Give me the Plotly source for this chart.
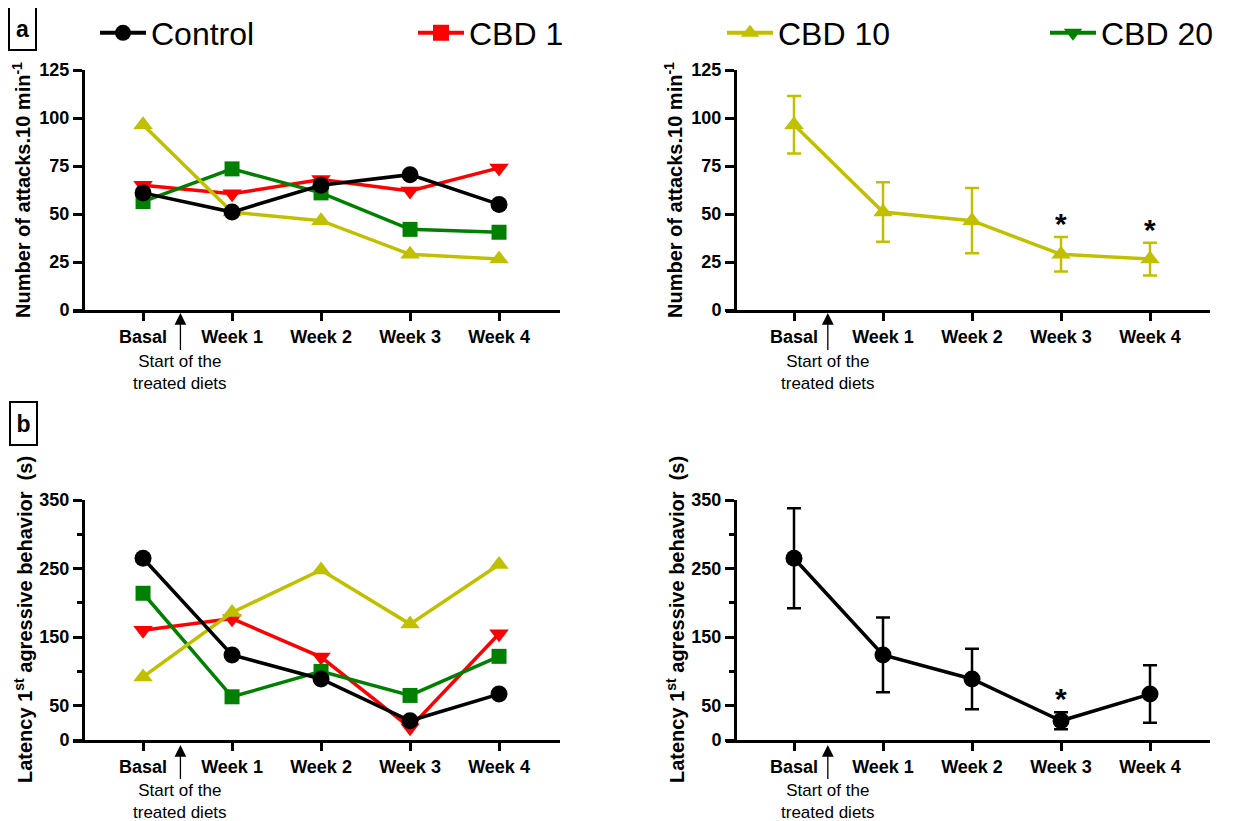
import plotly.graph_objects as go

# page body has an 8px margin: figure is sized so it ends at the window edge
OFF = 8
W, H = 1237 - OFF, 821 - OFF

categories = ["Basal", "Week 1", "Week 2", "Week 3", "Week 4"]
series_names = ["Control", "CBD 1", "CBD 10", "CBD 20"]

# (a) Number of attacks per 10 min
attacks_control = [61, 51, 65, 70.5, 55]
attacks_cbd1 = [65, 60.5, 68, 62, 74]
attacks_cbd10 = [96.5, 51, 46.5, 29, 26.5]
attacks_cbd20 = [56.5, 73.5, 61, 42, 40.5]
attacks_cbd10_err = [15, 15.5, 17, 9, 8.5]
attacks_sig = ["Week 3", "Week 4"]

# (b) Latency of 1st aggressive behavior (s)
latency_control = [265, 124, 89, 28, 67]
latency_cbd1 = [160, 177, 121, 18, 155]
latency_cbd10 = [92, 186, 248, 169, 256]
latency_cbd20 = [214, 63, 100, 65, 122]
latency_control_err = [73, 54.5, 44, 12.5, 42]
latency_sig = ["Week 3"]

attack_ticks = [0, 25, 50, 75, 100, 125]
latency_ticks = [0, 50, 150, 250, 350]
latency_minor = [100, 200, 300]

FONT = "Liberation Sans, Arial, sans-serif"
BLACK = "#000000"
RED = "#FF0000"
YEL = "#C0C000"
GRN = "#008000"

def px_x(p):
    return (p - OFF) / W

def px_y(p):
    return 1 - (p - OFF) / H

fig = go.Figure()

# legend-only entries (as drawn in the original legend), one legend box each
leg_style = [
    ("Control", BLACK, "circle", "legend", 95),
    ("CBD 1", RED, "square", "legend2", 413),
    ("CBD 10", YEL, "triangle-up", "legend3", 722),
    ("CBD 20", GRN, "triangle-down", "legend4", 1045),
]
for name, col, sym, lg, _ in leg_style:
    fig.add_trace(go.Scatter(x=[None], y=[None], mode="lines+markers", name=name,
                             line=dict(color=col, width=4),
                             marker=dict(symbol=sym, size=16, color=col),
                             xaxis="x", yaxis="y", showlegend=True, legend=lg))

def add_group(xa, ya, ctrl, c1, c10, c20):
    specs = [
        (c1, RED, "triangle-down", 17),
        (c20, GRN, "square", 15),
        (c10, YEL, "triangle-up", 17),
        (ctrl, BLACK, "circle", 17),
    ]
    for vals, col, sym, sz in specs:
        fig.add_trace(go.Scatter(x=categories, y=vals, mode="lines+markers",
                                 line=dict(color=col, width=3.5),
                                 marker=dict(symbol=sym, size=sz, color=col),
                                 xaxis=xa, yaxis=ya, showlegend=False,
                                 cliponaxis=False))

add_group("x", "y", attacks_control, attacks_cbd1, attacks_cbd10, attacks_cbd20)
add_group("x3", "y3", latency_control, latency_cbd1, latency_cbd10, latency_cbd20)

fig.add_trace(go.Scatter(x=categories, y=attacks_cbd10, mode="lines+markers",
                         line=dict(color=YEL, width=3.5),
                         marker=dict(symbol="triangle-up", size=17, color=YEL),
                         error_y=dict(type="data", array=attacks_cbd10_err, color=YEL,
                                      thickness=2.5, width=7),
                         xaxis="x2", yaxis="y2", showlegend=False, cliponaxis=False))
fig.add_trace(go.Scatter(x=categories, y=latency_control, mode="lines+markers",
                         line=dict(color=BLACK, width=3.5),
                         marker=dict(symbol="circle", size=17, color=BLACK),
                         error_y=dict(type="data", array=latency_control_err, color=BLACK,
                                      thickness=2.5, width=7),
                         xaxis="x4", yaxis="y4", showlegend=False, cliponaxis=False))

tickfont = dict(family=FONT, size=18, color=BLACK, weight="bold")

def xax(dom, anchor, rng):
    return dict(domain=[px_x(dom[0]), px_x(dom[1])], anchor=anchor, type="category",
                range=rng, showline=True, linewidth=3, linecolor=BLACK,
                ticks="outside", ticklen=8, tickwidth=3, tickcolor=BLACK,
                showgrid=False, zeroline=False, tickfont=tickfont,
                categoryorder="array", categoryarray=categories)

def yax(dom, pos, rng, tv, minor=None):
    d = dict(domain=[px_y(dom[1]), px_y(dom[0])], anchor="free", position=px_x(pos),
             range=rng, showline=True, linewidth=3, linecolor=BLACK,
             ticks="outside", ticklen=9, tickwidth=3, tickcolor=BLACK,
             tickmode="array", tickvals=tv, ticktext=[str(v) for v in tv],
             showgrid=False, zeroline=False, tickfont=tickfont)
    if minor:
        d["minor"] = dict(tickmode="array", tickvals=minor, ticks="outside",
                          ticklen=5, tickwidth=3, tickcolor=BLACK, showgrid=False)
    return d

LEFT_DOM = (73, 560)
RIGHT_DOM = (726, 1210)
LEFT_RNG = [-0.787, 4.685]
RIGHT_RNG = [-0.764, 4.674]
A_DOM = (70, 310)
B_DOM = (500, 740)

fig.update_layout(
    xaxis=xax(LEFT_DOM, "y", LEFT_RNG),
    yaxis=yax(A_DOM, 83, [0, 125], attack_ticks),
    xaxis2=xax(RIGHT_DOM, "y2", RIGHT_RNG),
    yaxis2=yax(A_DOM, 735, [0, 125], attack_ticks),
    xaxis3=xax(LEFT_DOM, "y3", LEFT_RNG),
    yaxis3=yax(B_DOM, 83, [0, 350], latency_ticks, latency_minor),
    xaxis4=xax(RIGHT_DOM, "y4", RIGHT_RNG),
    yaxis4=yax(B_DOM, 735, [0, 350], latency_ticks, latency_minor),
)

ann = []
# panel letters
for letter, cx, cy in [("a", 22.5, 28.5), ("b", 23, 423.5)]:
    ann.append(dict(text=letter, xref="paper", yref="paper", x=px_x(cx), y=px_y(cy),
                    xanchor="center", yanchor="middle", showarrow=False,
                    font=dict(family=FONT, size=23, color=BLACK, weight="bold"),
                    bordercolor=BLACK, borderwidth=2, width=23, height=39))

# y titles
ytitle_a = "Number of attacks.10 min<sup>-1</sup>"
ytitle_b = "Latency 1<sup>st</sup> agressive behavior\u00a0\u00a0(s)"
for txt, cx, cy in [(ytitle_a, 22, 190), (ytitle_a, 674, 190),
                    (ytitle_b, 23, 620), (ytitle_b, 675, 620)]:
    ann.append(dict(text=txt, xref="paper", yref="paper", x=px_x(cx), y=px_y(cy),
                    xanchor="center", yanchor="middle", showarrow=False, textangle=-90,
                    font=dict(family=FONT, size=20, color=BLACK, weight="bold")))

# start-of-diet arrows
note = "Start of the<br>treated diets"
for xa, xv, tip, dy in [("x", 0.42, 313, 59), ("x2", 0.38, 313, 59),
                        ("x3", 0.42, 745, 56), ("x4", 0.38, 745, 56)]:
    ann.append(dict(text=note, xref=xa, yref="paper", x=xv, y=px_y(tip),
                    showarrow=True, ax=0, ay=dy, arrowhead=2, arrowsize=1.8,
                    arrowwidth=1.3, arrowcolor=BLACK, standoff=0,
                    font=dict(family=FONT, size=17, color=BLACK)))

# significance asterisks
for cat in attacks_sig:
    i = categories.index(cat)
    ann.append(dict(text="*", xref="x2", yref="y2", x=i,
                    y=attacks_cbd10[i] + attacks_cbd10_err[i],
                    xanchor="center", yanchor="bottom", yshift=-5, showarrow=False,
                    font=dict(family=FONT, size=30, color=BLACK, weight="bold")))
for cat in latency_sig:
    i = categories.index(cat)
    ann.append(dict(text="*", xref="x4", yref="y4", x=i,
                    y=latency_control[i] + latency_control_err[i],
                    xanchor="center", yanchor="bottom", yshift=-5, showarrow=False,
                    font=dict(family=FONT, size=30, color=BLACK, weight="bold")))

legend_common = dict(orientation="h", y=px_y(33), yanchor="middle", xanchor="left",
                     font=dict(family=FONT, size=32, color=BLACK),
                     bgcolor="rgba(0,0,0,0)", itemwidth=46)
legs = {}
for name, col, sym, lg, lx in leg_style:
    legs[lg] = dict(legend_common, x=px_x(lx))

fig.update_layout(
    width=W, height=H, autosize=False,
    margin=dict(l=0, r=0, t=0, b=0, autoexpand=False),
    paper_bgcolor="white", plot_bgcolor="white",
    font=dict(family=FONT, color=BLACK),
    annotations=ann,
    showlegend=True,
    **legs,
)

fig.write_html("out.html")
